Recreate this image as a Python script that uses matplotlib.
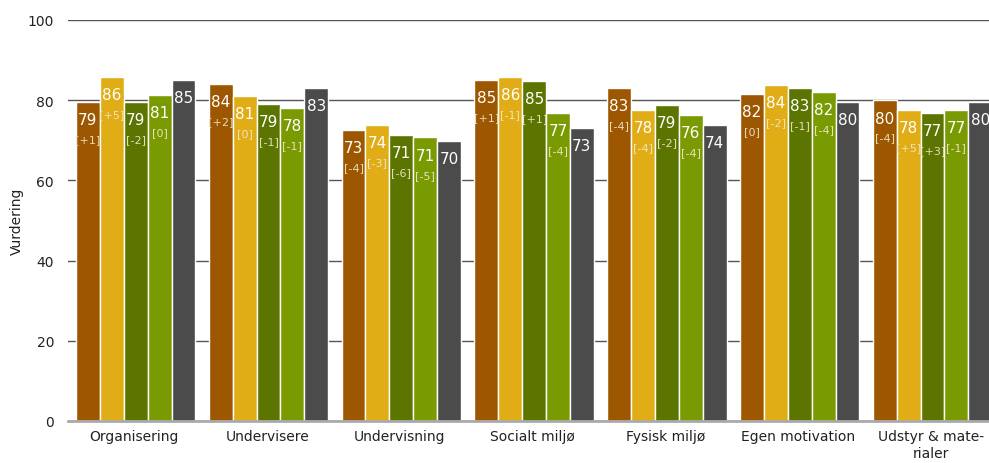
import numpy as np
import matplotlib
matplotlib.use('Agg')
import matplotlib.pyplot as plt

categories = ['Organisering', 'Undervisere', 'Undervisning', 'Socialt miljø',
              'Fysisk miljø', 'Egen motivation', 'Udstyr & mate-\nrialer']

# bar heights (one list per series)
s1 = [79.6, 84.1, 72.6, 85.1, 83.1, 81.6, 80.0]
s2 = [85.9, 81.1, 73.9, 85.9, 77.6, 83.9, 77.6]
s3 = [79.6, 79.1, 71.4, 84.9, 78.9, 83.1, 76.9]
s4 = [81.4, 78.1, 70.7, 76.9, 76.4, 82.1, 77.6]
s5 = [85.1, 83.1, 69.9, 73.1, 73.9, 79.6, 79.6]

# printed labels
lab1 = [79, 84, 73, 85, 83, 82, 80]
lab2 = [86, 81, 74, 86, 78, 84, 78]
lab3 = [79, 79, 71, 85, 79, 83, 77]
lab4 = [81, 78, 71, 77, 76, 82, 77]
lab5 = [85, 83, 70, 73, 74, 80, 80]
chg1 = ['+1', '+2', '-4', '+1', '-4', '0', '-4']
chg2 = ['+5', '0', '-3', '-1', '-4', '-2', '+5']
chg3 = ['-2', '-1', '-6', '+1', '-2', '-1', '+3']
chg4 = ['0', '-1', '-5', '-4', '-4', '-4', '-1']

series = [s1, s2, s3, s4, s5]
labels = [lab1, lab2, lab3, lab4, lab5]
changes = [chg1, chg2, chg3, chg4, None]
colors = ['#9C5700', '#E0AD17', '#5B7500', '#7A9A01', '#4B4B4B']

fig = plt.figure(figsize=(9.89, 4.64), dpi=100)
ax = fig.add_axes([68/989, 42/464, 929.6/989, 401/464])

x = np.arange(len(categories))
step = 0.18
for i, vals in enumerate(series):
    pos = x + (i - 2) * step + 0.01
    ax.bar(pos, vals, width=step, color=colors[i], edgecolor='white',
           linewidth=1.0, zorder=2)
    for j, v in enumerate(vals):
        ax.text(pos[j], v - 4.5, str(labels[i][j]), ha='center', va='center',
                color='white', fontsize=11, zorder=3)
        if changes[i] is not None:
            ax.text(pos[j], v - 9.3, '[' + changes[i][j] + ']', ha='center',
                    va='center', color='#F2E8CC', fontsize=8, alpha=0.9, zorder=3)

ax.set_xlim(-0.5, 6.5)
ax.set_ylim(0, 100)
ax.set_yticks([0, 20, 40, 60, 80, 100])
ax.set_xticks(x)
ax.set_xticklabels(categories, fontsize=10)
ax.tick_params(axis='y', labelsize=10, length=0, pad=10, labelcolor='#222222')
ax.tick_params(axis='x', length=0, pad=6, labelcolor='#222222')
ax.yaxis.grid(True, color='#555555', linewidth=1.0, zorder=0)
ax.set_axisbelow(True)
for sp in ['top', 'right', 'left']:
    ax.spines[sp].set_visible(False)
ax.spines['bottom'].set_color('#AAAAAA')
ax.spines['bottom'].set_linewidth(2)
ax.set_ylabel('Vurdering', fontsize=10, color='#222222')
ax.yaxis.set_label_coords(-0.047, 0.5)

fig.savefig('out.png', dpi=100)
